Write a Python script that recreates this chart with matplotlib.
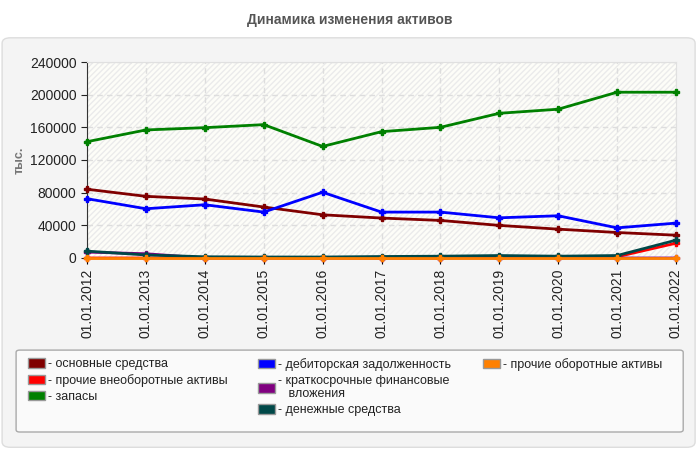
import matplotlib
matplotlib.use("Agg")
import matplotlib.pyplot as plt
from matplotlib.patches import FancyBboxPatch, Rectangle, Patch

plt.rcParams['font.family'] = ['Liberation Sans', 'DejaVu Sans']

dates = ['01.01.2012', '01.01.2013', '01.01.2014', '01.01.2015', '01.01.2016', '01.01.2017',
         '01.01.2018', '01.01.2019', '01.01.2020', '01.01.2021', '01.01.2022']

osnovnye = [84200, 75500, 72200, 62400, 52900, 48900, 46000, 39900, 35300, 31200, 27900]
prochie_vneob = [0, 0, 0, 0, 0, 0, 0, 1500, 1000, 1500, 18100]
zapasy = [142400, 156800, 159600, 163300, 136600, 154700, 160000, 177200, 182200, 203000, 203000]
debitorka = [72600, 60300, 65200, 56200, 80500, 56200, 56200, 49200, 51700, 36900, 42700]
fin_vlozh = [7200, 5200, 0, 0, 0, 0, 0, 0, 0, 0, 0]
dengi = [8400, 3700, 1500, 1200, 1200, 1800, 2200, 3000, 2200, 3000, 21800]
prochie_ob = [0, 0, 0, 0, 0, 0, 0, 0, 0, 0, 0]

series = [
    ('основные средства', osnovnye, '#800000'),
    ('прочие внеоборотные активы', prochie_vneob, '#ff0000'),
    ('запасы', zapasy, '#008000'),
    ('дебиторская задолженность', debitorka, '#0000ff'),
    ('краткосрочные финансовые\n   вложения', fin_vlozh, '#800080'),
    ('денежные средства', dengi, '#004848'),
    ('прочие оборотные активы', prochie_ob, '#ff8000'),
]

fig = plt.figure(figsize=(7, 4.5), dpi=100)
fig.patch.set_facecolor('white')

# outer panel
fig.patches.append(FancyBboxPatch((0.003, 0.006), 0.99, 0.91, boxstyle='round,pad=0,rounding_size=0.012',
                                  transform=fig.transFigure, facecolor='#f4f4f4',
                                  edgecolor='#dddddd', linewidth=1, zorder=0))
# legend box
fig.patches.append(FancyBboxPatch((0.023, 0.04), 0.953, 0.182, boxstyle='round,pad=0,rounding_size=0.005',
                                  transform=fig.transFigure, facecolor='#fafafa',
                                  edgecolor='#aaaaaa', linewidth=1, zorder=1))

fig.text(0.5, 0.955, 'Динамика изменения активов', ha='center', va='center',
         fontsize=10, fontweight='bold', color='#555555')

ax = fig.add_axes([0.1243, 0.4267, 0.8414, 0.4355])
ax.set_zorder(3)
ax.set_facecolor('#fdfdf8')
ax.add_patch(Rectangle((0, 0), 1, 1, transform=ax.transAxes, facecolor='none',
                       edgecolor='#ebebeb', hatch='//////', linewidth=0, zorder=0))

x = list(range(len(dates)))
for name, vals, col in series:
    ax.plot(x, vals, color=col, linewidth=2, marker='P', markersize=4, zorder=3, clip_on=False)

ax.set_xlim(0, len(dates) - 1)
ax.set_ylim(0, 240000)
ax.set_yticks(range(0, 240001, 40000))
ax.set_xticks(x)
ax.set_xticklabels(dates, rotation=90, fontsize=10, color='#222222')
ax.tick_params(axis='y', labelsize=10, colors='#222222', length=4)
ax.tick_params(axis='x', length=4)
ax.grid(True, color='#dddddd', linestyle=(0, (4, 3)), linewidth=1)
ax.set_axisbelow(True)
for s in ['top', 'right']:
    ax.spines[s].set_color('#e0e0e0')
for s in ['left', 'bottom']:
    ax.spines[s].set_color('#333333')
ax.set_ylabel('тыс.', fontsize=9, fontweight='bold', color='#777777', labelpad=3)

handles = [Patch(facecolor=c, edgecolor='#999999', label='- ' + n) for n, v, c in series]
cols = [(handles[0:3], 28), (handles[3:6], 258), (handles[6:7], 483)]
for hs, xpx in cols:
    leg = fig.legend(handles=hs, loc='upper left', bbox_to_anchor=(xpx / 700, 1 - 358 / 450),
                     frameon=False, fontsize=9, handlelength=1.35, handleheight=0.8,
                     handletextpad=0.25, labelspacing=0.3, borderpad=0, borderaxespad=0)
    leg.set_zorder(4)
    for t in leg.get_texts():
        t.set_color('#222222')

fig.savefig('out.png', dpi=100)
